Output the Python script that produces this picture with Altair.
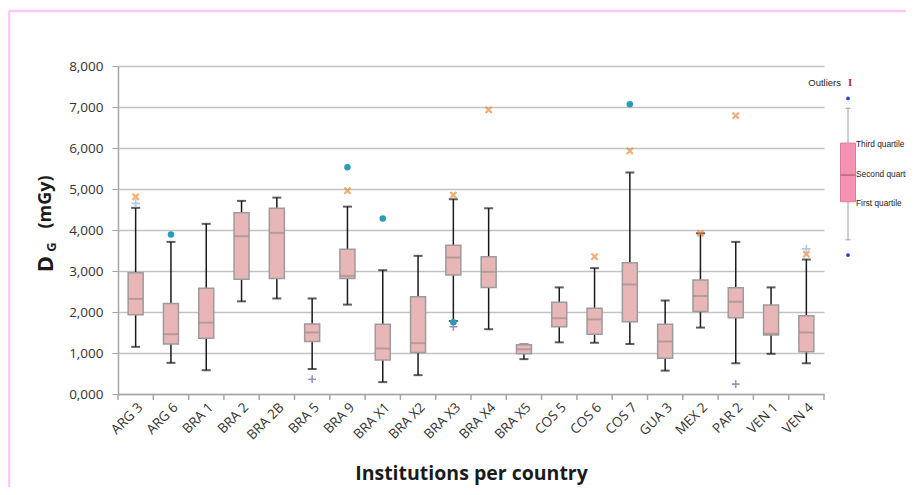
import altair as alt
import pandas as pd

# ---------------- data ----------------
categories = ["ARG 3", "ARG 6", "BRA 1", "BRA 2", "BRA 2B", "BRA 5", "BRA 9", "BRA X1",
              "BRA X2", "BRA X3", "BRA X4", "BRA X5", "COS 5", "COS 6", "COS 7", "GUA 3",
              "MEX 2", "PAR 2", "VEN 1", "VEN 4"]
whisker_low = [1.15, 0.76, 0.58, 2.26, 2.33, 0.61, 2.18, 0.29, 0.46, 1.78,
               1.58, 0.85, 1.26, 1.25, 1.22, 0.57, 1.62, 0.75, 0.98, 0.75]
q1 = [1.93, 1.22, 1.36, 2.80, 2.82, 1.28, 2.82, 0.83, 1.01, 2.90,
      2.60, 0.98, 1.64, 1.46, 1.76, 0.87, 2.01, 1.86, 1.44, 1.03]
median = [2.32, 1.46, 1.74, 3.85, 3.93, 1.50, 2.88, 1.11, 1.24, 3.33,
          2.98, 1.09, 1.85, 1.82, 2.67, 1.28, 2.39, 2.25, 1.47, 1.50]
q3 = [2.96, 2.21, 2.58, 4.42, 4.53, 1.71, 3.53, 1.70, 2.37, 3.63,
      3.35, 1.20, 2.24, 2.09, 3.20, 1.70, 2.78, 2.59, 2.17, 1.91]
whisker_high = [4.54, 3.71, 4.15, 4.71, 4.79, 2.33, 4.57, 3.02, 3.37, 4.75,
                4.53, 1.21, 2.60, 3.07, 5.40, 2.28, 3.92, 3.71, 2.60, 3.28]

# outliers by marker series
orange_x_cat = ["ARG 3", "BRA 9", "BRA X3", "BRA X4", "COS 6", "COS 7", "MEX 2", "PAR 2", "VEN 4"]
orange_x_val = [4.81, 4.96, 4.85, 6.93, 3.35, 5.93, 3.92, 6.79, 3.41]
teal_dot_cat = ["ARG 6", "BRA 9", "BRA X1", "BRA X3", "COS 7"]
teal_dot_val = [3.89, 5.53, 4.28, 1.75, 7.07]
blue_plus_cat = ["ARG 3", "VEN 4"]
blue_plus_val = [4.65, 3.54]
purple_plus_cat = ["BRA 5", "BRA X3", "PAR 2"]
purple_plus_val = [0.36, 1.64, 0.24]

# legend (key) sample box values
key_low, key_q1, key_med, key_q3, key_high = 3.76, 4.69, 5.34, 6.12, 6.97
key_dots = [7.21, 3.39]
key_outlier = 7.59
key_labels = ["Outliers", "Third quartile", "Second quartile", "First quartile"]
key_label_vals = [7.59, 6.07, 5.34, 4.63]

y_ticks = [0, 1, 2, 3, 4, 5, 6, 7, 8]

# ---------------- tables ----------------
df = pd.DataFrame({"cat": categories, "lo": whisker_low, "q1": q1, "med": median,
                   "q3": q3, "hi": whisker_high})
df_ox = pd.DataFrame({"cat": orange_x_cat, "v": orange_x_val})
df_td = pd.DataFrame({"cat": teal_dot_cat, "v": teal_dot_val})
df_bp = pd.DataFrame({"cat": blue_plus_cat, "v": blue_plus_val})
df_pp = pd.DataFrame({"cat": purple_plus_cat, "v": purple_plus_val})
df_last = pd.DataFrame({"cat": [categories[-1]]})
df_key = pd.DataFrame({"lo": [key_low], "q1": [key_q1], "med": [key_med], "q3": [key_q3],
                       "hi": [key_high], "out": [key_outlier]})
df_key_dots = pd.DataFrame({"v": key_dots})
df_key_lab = pd.DataFrame({"t": key_labels[1:], "v": key_label_vals[1:]})
df_key_out = pd.DataFrame({"t": key_labels[:1], "v": key_label_vals[:1]})
df_one = pd.DataFrame({"a": [0]})

W, H = 706, 328
band = W / len(categories)
FONT = "Open Sans"
GRAY = "#A6A6A6"

xscale = alt.Scale(domain=categories, paddingInner=0, paddingOuter=0)
yscale = alt.Scale(domain=[0, 8], nice=False)

x_enc = alt.X("cat:N", scale=xscale, sort=categories,
              axis=alt.Axis(title="Institutions per country", labelAngle=-45,
                            labelFont=FONT, labelFontSize=13.5, labelColor="#333333",
                            labelPadding=6, ticks=False, domainColor=GRAY, domainWidth=1.5,
                            titleFont=FONT, titleFontSize=19.5, titleFontWeight="bold",
                            titleColor="#1a1a1a", titleY=79, titleBaseline="middle"))
y_axis = alt.Axis(title="", values=y_ticks, grid=True, gridColor="#C2C2C2", gridWidth=1.6,
                  tickSize=6, tickColor=GRAY, domainColor=GRAY, domainWidth=1.5,
                  labelFont=FONT, labelFontSize=13.5, labelColor="#333333", labelPadding=9,
                  labelExpr="replace(format(datum.value, '.3f'), '.', ',')")

base = alt.Chart(df)

whisk = base.mark_rule(color="#1a1a1a", strokeWidth=1.5).encode(
    x=x_enc, y=alt.Y("lo:Q", scale=yscale, axis=y_axis), y2="hi:Q")
cap_lo = base.mark_tick(color="#1a1a1a", size=9, thickness=2).encode(x="cat:N", y="lo:Q")
cap_hi = base.mark_tick(color="#1a1a1a", size=9, thickness=2).encode(x="cat:N", y="hi:Q")
box = base.mark_bar(size=15, fill="#E8B6B6", stroke="#9C9C9C", strokeWidth=1.5).encode(
    x="cat:N", y="q1:Q", y2="q3:Q")
med = base.mark_tick(color="#A39090", size=15, thickness=2).encode(x="cat:N", y="med:Q")

xpath = "M-1,-1L1,1M-1,1L1,-1"
ox = alt.Chart(df_ox).mark_point(shape=xpath, size=38, color="#EE8A3C", strokeWidth=2.2,
                                 filled=False).encode(x="cat:N", y="v:Q")
td = alt.Chart(df_td).mark_point(shape="circle", size=42, color="#2A9BB9", filled=True,
                                 opacity=1).encode(x="cat:N", y="v:Q")
bp = alt.Chart(df_bp).mark_point(shape="M-1,0L1,0M0,-1L0,1", size=70, color="#8DB1E2",
                                 strokeWidth=1.6, filled=False).encode(x="cat:N", y="v:Q")
pp = alt.Chart(df_pp).mark_point(shape="M-1,0L1,0M0,-1L0,1", size=60, color="#7E5AA8",
                                 strokeWidth=1.6, filled=False).encode(x="cat:N", y="v:Q")

# x-axis ticks at band edges
edge_ticks = base.mark_rule(color=GRAY, strokeWidth=1.5, xOffset=-band / 2).encode(
    x="cat:N", y=alt.value(H), y2=alt.value(H + 6))
edge_last = alt.Chart(df_last).mark_rule(color=GRAY, strokeWidth=1.5, xOffset=band / 2).encode(
    x="cat:N", y=alt.value(H), y2=alt.value(H + 6))

# key (legend) box
KX = 730
k = alt.Chart(df_key)
k_wh = k.mark_rule(color="#A0A0A0", strokeWidth=1).encode(
    x=alt.value(KX), y="lo:Q", y2="hi:Q")
k_cap1 = k.mark_rule(color="#A0A0A0", strokeWidth=1).encode(
    x=alt.value(KX - 2.5), x2=alt.value(KX + 2.5), y="lo:Q")
k_cap2 = k.mark_rule(color="#A0A0A0", strokeWidth=1).encode(
    x=alt.value(KX - 2.5), x2=alt.value(KX + 2.5), y="hi:Q")
k_box = k.mark_bar(fill="#F591B3", stroke="#E07A9C", strokeWidth=1).encode(
    x=alt.value(KX - 7.5), x2=alt.value(KX + 7.5), y="q1:Q", y2="q3:Q")
k_med = k.mark_rule(color="#A65A78", strokeWidth=1.2).encode(
    x=alt.value(KX - 7.5), x2=alt.value(KX + 7.5), y="med:Q")
k_out = k.mark_text(text="I", font="DejaVu Serif", fontSize=9, fontWeight="bold",
                    color="#B5303C").encode(x=alt.value(KX + 2), y="out:Q")
k_dots = alt.Chart(df_key_dots).mark_point(shape="circle", size=14, color="#1F3FE0",
                                           filled=True, opacity=1).encode(
    x=alt.value(KX), y="v:Q")
k_lab = alt.Chart(df_key_lab).mark_text(align="left", baseline="middle",
                                        font="Liberation Sans", fontSize=8.3,
                                        color="#222222").encode(
    x=alt.value(KX + 8), y="v:Q", text="t:N")
k_lab_out = alt.Chart(df_key_out).mark_text(align="right", baseline="middle",
                                            font="Liberation Sans", fontSize=9.5,
                                            color="#222222").encode(
    x=alt.value(KX - 7), y="v:Q", text="t:N")

# y title "D_G (mGy)"
one = alt.Chart(df_one)
t_D = one.mark_text(text="D", angle=270, font=FONT, fontSize=22, fontWeight="bold",
                    color="#1a1a1a", align="center", baseline="middle").encode(
    x=alt.value(-72), y=alt.value(198))
t_G = one.mark_text(text="G", angle=270, font=FONT, fontSize=13, fontWeight="bold",
                    color="#1a1a1a", align="center", baseline="middle").encode(
    x=alt.value(-66.5), y=alt.value(181))
t_u = one.mark_text(text="(mGy)", angle=270, font=FONT, fontSize=18, fontWeight="bold",
                    color="#1a1a1a", align="center", baseline="middle").encode(
    x=alt.value(-72), y=alt.value(136))

# pink frame
FR = "#FFC8F8"
fr_left = one.mark_rule(color=FR, strokeWidth=2.5).encode(
    x=alt.value(-109), y=alt.value(-55), y2=alt.value(425))
fr_top = one.mark_rule(color=FR, strokeWidth=2.5).encode(
    x=alt.value(-109), x2=alt.value(800), y=alt.value(-55))

chart = alt.layer(
    whisk, cap_lo, cap_hi, box, med, ox, bp, pp, td, edge_ticks, edge_last,
    k_wh, k_cap1, k_cap2, k_box, k_med, k_out, k_dots, k_lab, k_lab_out,
    t_D, t_G, t_u, fr_left, fr_top
).properties(
    width=W, height=H,
    autosize=alt.AutoSizeParams(type="none"),
    padding={"left": 110, "top": 58, "right": 82, "bottom": 93}
).configure_view(strokeWidth=0)

chart.save("out.html", embed_options={"renderer": "svg", "actions": False})
